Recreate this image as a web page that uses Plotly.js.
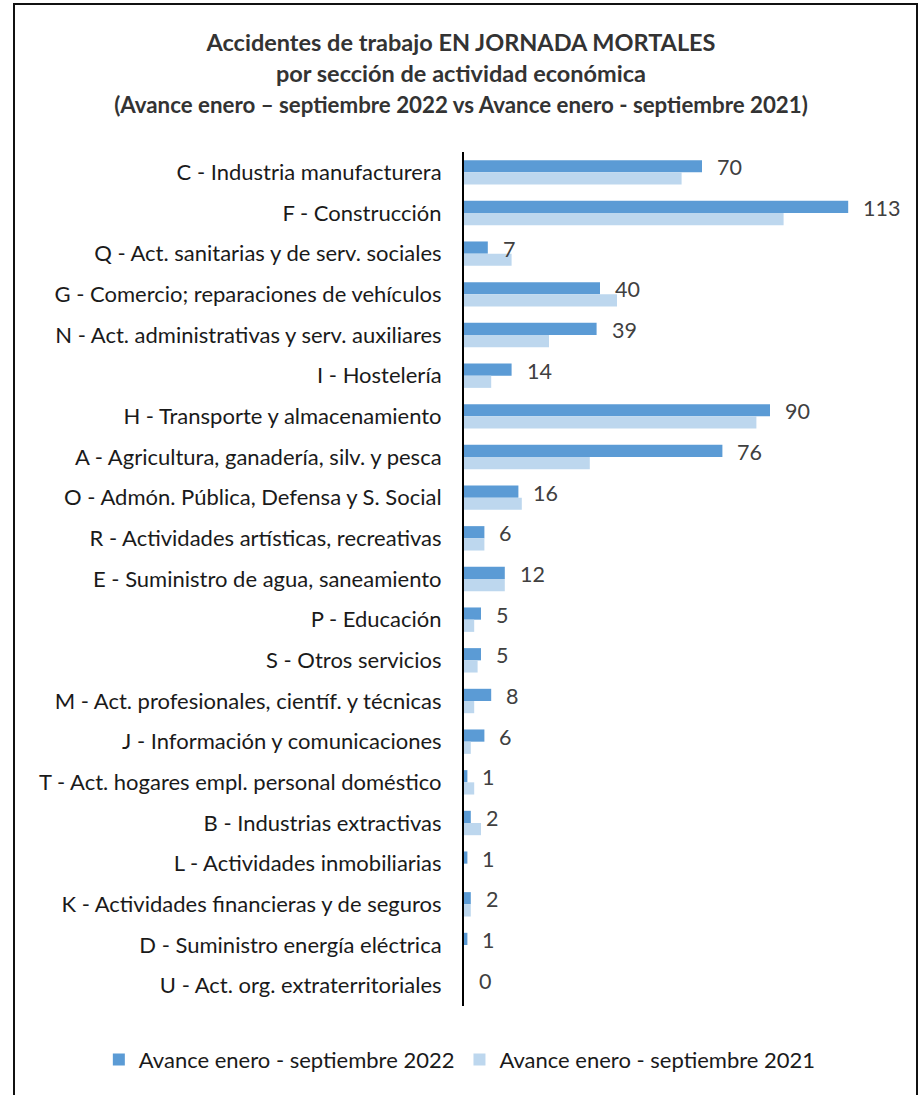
<!DOCTYPE html>
<html>
<head>
<meta charset="utf-8">
<script src="https://cdn.plot.ly/plotly-3.0.1.min.js"></script>
<style>
  html, body { margin: 0; padding: 0; background: #fff; overflow: hidden; }
  #chart { position: absolute; left: 0; top: 0; width: 922px; height: 1095px; }
  #frame { position: absolute; left: 13px; top: 3px; width: 901px; height: 1110px;
           border: 2.5px solid #111; pointer-events: none; }
</style>
</head>
<body>
<div id="chart"></div>
<div id="frame"></div>
<script>
const categories = [
  "C - Industria manufacturera",
  "F - Construcción",
  "Q - Act. sanitarias y de serv. sociales",
  "G - Comercio; reparaciones de vehículos",
  "N - Act. administrativas y serv. auxiliares",
  "I - Hostelería",
  "H - Transporte y almacenamiento",
  "A - Agricultura, ganadería, silv. y pesca",
  "O - Admón. Pública, Defensa y S. Social",
  "R - Actividades artísticas, recreativas",
  "E - Suministro de agua, saneamiento",
  "P - Educación",
  "S - Otros servicios",
  "M - Act. profesionales, científ. y técnicas",
  "J - Información y comunicaciones",
  "T - Act. hogares empl. personal doméstico",
  "B - Industrias extractivas",
  "L - Actividades inmobiliarias",
  "K - Actividades financieras y de seguros",
  "D - Suministro energía eléctrica",
  "U - Act. org. extraterritoriales"
];
const values2022 = [70, 113, 7, 40, 39, 14, 90, 76, 16, 6, 12, 5, 5, 8, 6, 1, 2, 1, 2, 1, 0];
const values2021 = [64, 94, 14, 45, 25, 8, 86, 37, 17, 6, 12, 3, 4, 3, 2, 3, 5, 0, 2, 0, 0];
const seriesNames = ["Avance enero - septiembre 2022", "Avance enero - septiembre 2021"];

const FONT = "Lato, 'Open Sans', sans-serif";

const traces = [
  { type: "bar", orientation: "h", name: seriesNames[0], y: categories, x: values2022,
    marker: { color: "#5B9BD5" }, hoverinfo: "x+name" },
  { type: "bar", orientation: "h", name: seriesNames[1], y: categories, x: values2021,
    marker: { color: "#BDD7EE" }, hoverinfo: "x+name" }
];

const labelAnnotations = categories.map((c, i) => ({
  x: values2022[i], y: c, xref: "x", yref: "y",
  text: String(values2022[i]), showarrow: false,
  xanchor: "left", yanchor: "middle", xshift: 13, yshift: 5,
  font: { family: FONT, size: 21.5, color: "#404040" }
}));

const layout = {
  width: 922, height: 1095,
  paper_bgcolor: "#ffffff", plot_bgcolor: "#ffffff",
  margin: { l: 464, r: 50, t: 152, b: 89 },
  barmode: "group", bargap: 0.4, bargroupgap: 0,
  title: {
    text: "<b>Accidentes de trabajo EN JORNADA MORTALES</b><br><b>por sección de actividad económica</b><br><span style='font-size:22.3px'><b>(Avance enero – septiembre 2022 vs Avance enero - septiembre 2021)</b></span>",
    x: 0.5, xanchor: "center", xref: "container",
    y: 0.953, yanchor: "top", yref: "container",
    font: { family: FONT, size: 23.5, color: "#333333" }
  },
  xaxis: { range: [0, 120], showgrid: false, zeroline: false, showticklabels: false,
           showline: false, ticks: "", fixedrange: true },
  yaxis: { type: "category", autorange: "reversed", showgrid: false, zeroline: false,
           showline: true, linecolor: "#000000", linewidth: 2, ticks: "",
           ticklabelstandoff: 16,
           tickfont: { family: FONT, size: 22, color: "#1a1a1a" } },
  showlegend: true,
  legend: { orientation: "h", x: -0.895, xanchor: "left",
            y: -0.063, yanchor: "middle",
            font: { family: FONT, size: 22, color: "#1a1a1a" }, traceorder: "normal",
            itemwidth: 30 },
  annotations: labelAnnotations
};

Plotly.newPlot("chart", traces, layout, { displayModeBar: false, staticPlot: true });
</script>
</body>
</html>
